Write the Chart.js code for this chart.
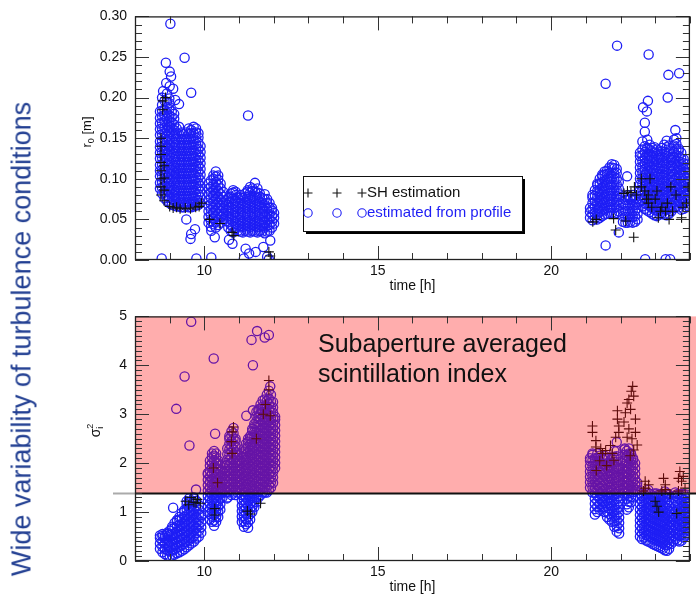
<!DOCTYPE html>
<html>
<head>
<meta charset="utf-8">
<title>turbulence conditions</title>
<script src="https://cdn.jsdelivr.net/npm/chart.js@4.4.1/dist/chart.umd.min.js"></script>
<style>
  html, body { margin: 0; padding: 0; background: #fff; }
  #wrap { position: relative; width: 696px; height: 598px; overflow: hidden; font-family: "Liberation Sans", Arial, sans-serif; }
  #topChart { position: absolute; left: 0; top: 0; }
  #bottomChart { position: absolute; left: 0; top: 300px; }
  #sideTitle { position: absolute; left: 22px; top: 339px; transform: translate(-50%, -50%) rotate(-90deg);
               white-space: nowrap; font-size: 27px; color: #223f92; }
  #note { position: absolute; left: 318px; top: 328px; font-size: 25px; line-height: 30px; color: #111; white-space: nowrap; }
</style>
</head>
<body>
<div id="wrap">
  <canvas id="topChart" width="696" height="300"></canvas>
  <canvas id="bottomChart" width="696" height="298"></canvas>
  <div id="sideTitle">Wide variability of turbulence conditions</div>
  <div id="note">Subaperture averaged<br>scintillation index</div>
</div>
<script>
// axis ranges and tick labels
const timeRange = [8, 24];
const timeTicks = [10, 15, 20];
const r0Ticks = [0, 0.05, 0.10, 0.15, 0.20, 0.25, 0.30];
const sigmaTicks = [0, 1, 2, 3, 4, 5];
const sigmaBand = [1.38, 5]; // shaded region of the scintillation panel

// readings, one entry per time column: [time, value, value, ...]
// r0 estimated from profile (circles)
const r0Profile = [
  [8.72, 0.088,0.095,0.103,0.110,0.117,0.125,0.132,0.139,0.146,0.154,0.161,0.168,0.175,0.183],
  [8.78, 0.082,0.089,0.096,0.104,0.111,0.118,0.126,0.133,0.140,0.147,0.155,0.162,0.169,0.177,0.184,0.191,0.200],
  [8.85, 0.076,0.083,0.091,0.098,0.105,0.112,0.120,0.127,0.134,0.141,0.149,0.156,0.163,0.171,0.178,0.185,0.196],
  [8.92, 0.073,0.079,0.086,0.094,0.101,0.108,0.116,0.123,0.130,0.137,0.145,0.152,0.159,0.166,0.174,0.181,0.188,0.195,0.205],
  [8.99, 0.070,0.077,0.084,0.091,0.099,0.106,0.113,0.120,0.128,0.135,0.142,0.149,0.157,0.164,0.171,0.178,0.186,0.193,0.199],
  [9.06, 0.068,0.075,0.082,0.089,0.097,0.104,0.111,0.118,0.126,0.133,0.140,0.147,0.155,0.162,0.169,0.176,0.183],
  [9.13, 0.067,0.073,0.080,0.087,0.095,0.102,0.109,0.116,0.124,0.131,0.138,0.145,0.153,0.160,0.167,0.174,0.180],
  [9.20, 0.066,0.072,0.079,0.086,0.093,0.100,0.107,0.114,0.121,0.128,0.135,0.142,0.149,0.156,0.162],
  [9.27, 0.066,0.071,0.078,0.085,0.092,0.099,0.106,0.113,0.120,0.127,0.134,0.141,0.148,0.155,0.164],
  [9.34, 0.065,0.072,0.079,0.086,0.093,0.100,0.107,0.114,0.121,0.128,0.135,0.142,0.149,0.157],
  [9.41, 0.065,0.071,0.078,0.085,0.092,0.099,0.106,0.113,0.120,0.127,0.134,0.141,0.148,0.155],
  [9.48, 0.066,0.072,0.079,0.086,0.093,0.100,0.107,0.114,0.121,0.128,0.135,0.142,0.149,0.157],
  [9.55, 0.065,0.071,0.078,0.085,0.092,0.099,0.106,0.113,0.120,0.127,0.134,0.141,0.148,0.155,0.162],
  [9.62, 0.065,0.072,0.079,0.086,0.093,0.100,0.107,0.114,0.121,0.128,0.135,0.142,0.149,0.156,0.160],
  [9.69, 0.066,0.072,0.079,0.086,0.093,0.100,0.107,0.114,0.121,0.128,0.135,0.142,0.149,0.156,0.164],
  [9.76, 0.067,0.073,0.080,0.087,0.094,0.101,0.108,0.115,0.122,0.129,0.136,0.143,0.150,0.157,0.162],
  [9.83, 0.068,0.074,0.081,0.088,0.095,0.102,0.109,0.116,0.123,0.130,0.137,0.144,0.151,0.156],
  [9.89, 0.070,0.077,0.084,0.091,0.098,0.105,0.112,0.119,0.126,0.133,0.140],
  [9.02,0.291],[8.89,0.243],[9.00,0.232],[9.04,0.226],[8.90,0.218],[9.00,0.214],[8.81,0.208],
  [9.10,0.211],[9.27,0.192],[9.43,0.249],[9.62,0.206],[9.16,0.197],[9.48,0.050],[9.73,0.038],
  [9.62,0.032],[9.60,0.026],[8.77,0.002],[9.77,0.002],
  [10.12, 0.046,0.053,0.060,0.067,0.074,0.081,0.088,0.094],
  [10.19, 0.041,0.048,0.055,0.062,0.069,0.076,0.083,0.090,0.098],
  [10.26, 0.044,0.051,0.058,0.065,0.072,0.079,0.086,0.093,0.100,0.104],
  [10.33, 0.040,0.047,0.054,0.061,0.068,0.075,0.082,0.089,0.096,0.103,0.109],
  [10.40, 0.043,0.050,0.057,0.064,0.071,0.078,0.085,0.092,0.099,0.104],
  [10.47, 0.046,0.053,0.060,0.067,0.074,0.081,0.088,0.094],
  [10.54, 0.050,0.057,0.064,0.071,0.078,0.084],
  [10.30,0.028],[10.20,0.036],[10.20,0.003],
  [10.62, 0.048,0.055,0.062,0.069,0.074],
  [10.69, 0.040,0.047,0.054,0.061,0.068,0.076],
  [10.76, 0.036,0.043,0.050,0.057,0.064,0.071,0.078,0.082],
  [10.83, 0.034,0.041,0.048,0.055,0.062,0.069,0.076,0.083,0.086],
  [10.90, 0.038,0.045,0.052,0.059,0.066,0.073,0.080,0.084],
  [10.97, 0.036,0.043,0.050,0.057,0.064,0.071,0.077],
  [11.04, 0.035,0.042,0.049,0.056,0.063,0.070,0.077,0.080],
  [11.11, 0.034,0.041,0.048,0.055,0.062,0.069,0.076],
  [11.18, 0.036,0.043,0.050,0.057,0.064,0.071,0.078,0.082],
  [11.25, 0.035,0.042,0.049,0.056,0.063,0.070,0.077,0.084,0.086],
  [11.32, 0.034,0.041,0.048,0.055,0.062,0.069,0.076,0.083,0.090],
  [11.39, 0.036,0.043,0.050,0.057,0.064,0.071,0.078,0.085,0.088],
  [11.46, 0.035,0.042,0.049,0.056,0.063,0.070,0.077,0.084,0.095],
  [11.53, 0.034,0.041,0.048,0.055,0.062,0.069,0.076,0.083,0.088],
  [11.60, 0.036,0.043,0.050,0.057,0.064,0.071,0.078,0.082],
  [11.67, 0.035,0.042,0.049,0.056,0.063,0.070,0.076],
  [11.74, 0.033,0.040,0.047,0.054,0.061,0.068,0.075,0.081],
  [11.81, 0.035,0.042,0.049,0.056,0.063,0.070,0.075],
  [11.88, 0.036,0.043,0.050,0.057,0.064,0.070],
  [11.95, 0.040,0.047,0.054,0.061,0.064],
  [12.01, 0.045,0.052,0.058],
  [11.26,0.178],[10.81,0.020],[10.71,0.025],[11.19,0.014],[11.29,0.008],[11.14,0.002],
  [11.48,0.010],[11.81,0.004],[11.70,0.016],[11.90,0.024],[11.86,0.001],
  [21.12, 0.052,0.059,0.064],
  [21.19, 0.049,0.056,0.063,0.070,0.077,0.080],
  [21.26, 0.051,0.058,0.065,0.072,0.079,0.086],
  [21.33, 0.050,0.057,0.064,0.071,0.078,0.085,0.092,0.094],
  [21.40, 0.052,0.059,0.066,0.073,0.080,0.087,0.094,0.100],
  [21.47, 0.054,0.061,0.068,0.075,0.082,0.089,0.096,0.103,0.105],
  [21.54, 0.056,0.063,0.070,0.077,0.084,0.091,0.098,0.105,0.109],
  [21.61, 0.057,0.064,0.071,0.078,0.085,0.092,0.099,0.106,0.110],
  [21.68, 0.058,0.065,0.072,0.079,0.086,0.093,0.100,0.107,0.114],
  [21.75, 0.058,0.065,0.072,0.079,0.086,0.093,0.100,0.107,0.114,0.118],
  [21.82, 0.057,0.064,0.071,0.078,0.085,0.092,0.099,0.106,0.113,0.117],
  [21.89, 0.058,0.065,0.072,0.079,0.086,0.093,0.100,0.107,0.112],
  [21.95, 0.060,0.067,0.074,0.081,0.088,0.096],
  [21.57,0.217],[21.90,0.264],[21.95,0.034],[21.57,0.018],[22.19,0.103],
  [22.07, 0.047,0.054,0.061,0.069],
  [22.14, 0.046,0.053,0.060,0.067,0.074,0.078],
  [22.21, 0.046,0.053,0.060,0.067,0.074,0.080],
  [22.28, 0.047,0.054,0.061,0.068,0.075,0.078],
  [22.35, 0.046,0.053,0.060,0.067,0.074,0.080],
  [22.42, 0.047,0.054,0.061,0.068,0.076],
  [22.49, 0.050,0.057,0.064,0.071],
  [22.56, 0.072,0.079,0.086,0.093,0.100,0.107,0.114,0.121,0.128,0.132],
  [22.63, 0.066,0.073,0.080,0.087,0.094,0.101,0.108,0.115,0.122,0.129,0.136,0.146],
  [22.70, 0.063,0.070,0.077,0.084,0.091,0.098,0.105,0.112,0.119,0.126,0.133,0.140,0.158],
  [22.77, 0.061,0.068,0.075,0.082,0.089,0.096,0.103,0.110,0.117,0.124,0.131,0.138,0.148],
  [22.84, 0.059,0.066,0.073,0.080,0.087,0.094,0.101,0.108,0.115,0.122,0.129,0.136,0.142],
  [22.91, 0.057,0.064,0.071,0.078,0.085,0.092,0.099,0.106,0.113,0.120,0.127,0.134,0.138],
  [22.98, 0.055,0.062,0.069,0.076,0.083,0.090,0.097,0.104,0.111,0.118,0.125,0.132,0.139],
  [23.05, 0.054,0.061,0.068,0.075,0.082,0.089,0.096,0.103,0.110,0.117,0.124,0.131,0.136],
  [23.12, 0.056,0.063,0.070,0.077,0.084,0.091,0.098,0.105,0.112,0.119,0.126,0.130],
  [23.19, 0.057,0.064,0.071,0.078,0.085,0.092,0.099,0.106,0.113,0.120,0.127,0.134,0.138],
  [23.26, 0.056,0.063,0.070,0.077,0.084,0.091,0.098,0.105,0.112,0.119,0.126,0.133,0.142],
  [23.33, 0.055,0.062,0.069,0.076,0.083,0.090,0.097,0.104,0.111,0.118,0.125,0.132,0.139,0.147],
  [23.40, 0.057,0.064,0.071,0.078,0.085,0.092,0.099,0.106,0.113,0.120,0.127,0.134,0.141],
  [23.47, 0.060,0.067,0.074,0.081,0.088,0.095,0.102,0.109,0.116,0.123,0.126],
  [23.54, 0.064,0.071,0.078,0.085,0.092,0.099,0.106,0.113,0.120,0.127,0.134,0.141,0.148],
  [23.61, 0.066,0.073,0.080,0.087,0.094,0.101,0.108,0.115,0.122,0.129,0.136,0.143,0.150],
  [23.68, 0.065,0.072,0.079,0.086,0.093,0.100,0.107,0.114,0.121,0.128,0.135,0.137],
  [23.75, 0.062,0.069,0.076,0.083,0.090,0.097,0.104,0.111,0.118,0.125,0.132],
  [23.82, 0.063,0.070,0.077,0.084,0.091,0.098,0.105,0.112,0.119,0.124],
  [23.89, 0.065,0.072,0.079,0.086,0.093,0.100,0.107,0.114,0.118],
  [23.95, 0.066,0.073,0.080,0.087,0.094,0.101,0.108,0.112],
  [22.81,0.253],[23.38,0.228],[23.69,0.230],[23.36,0.200],[22.79,0.196],[22.65,0.188],
  [22.76,0.183],[22.70,0.169],[22.71,0.001],[23.30,0.001],[23.43,0.001],[23.58,0.160]
];

// r0 from SH estimation (crosses)
const r0Sh = [
  [8.75, 0.080,0.090,0.100,0.110,0.120,0.130,0.140,0.150],
  [8.80, 0.185,0.196], [8.84, 0.073,0.086,0.101,0.116], [8.88, 0.200],
  [9.00,0.066],[9.10,0.064],[9.20,0.065],[9.30,0.063],[9.45,0.064],[9.60,0.063],[9.75,0.065],
  [9.85,0.066],[9.92,0.070],
  [10.15,0.050],[10.45,0.045],[10.80,0.034],[10.85,0.030],[11.86,0.010],[11.90,0.005],
  [21.20,0.047],[21.30,0.050],[21.80,0.051],[21.86,0.037],[22.38,0.028],
  [22.10,0.082],[22.20,0.085],[22.30,0.083],[22.40,0.090],[22.46,0.080],[22.15,0.048],
  [22.60,0.100,0.090],[22.70,0.085],[22.75,0.075],[22.80,0.070,0.080],[22.85,0.100],[22.90,0.065],
  [23.00,0.075],[23.05,0.085],[23.09,0.052],[23.15,0.060],[23.19,0.065],[23.30,0.060],[23.35,0.070],
  [23.40,0.050],[23.45,0.090],[23.50,0.060],[23.60,0.080],[23.76,0.052],[23.80,0.065],[23.90,0.070],
  [23.95,0.090]
];

// scintillation index estimated from profile (circles)
const sigmaProfile = [
  [8.72, 0.25,0.36,0.47,0.52],
  [8.79, 0.18,0.29,0.40,0.51,0.55],
  [8.86, 0.14,0.25,0.36,0.47,0.52],
  [8.93, 0.11,0.22,0.33,0.44,0.55,0.58],
  [9.00, 0.09,0.20,0.31,0.42,0.53,0.62],
  [9.07, 0.11,0.22,0.33,0.44,0.55,0.66,0.70],
  [9.14, 0.13,0.24,0.35,0.46,0.57,0.68,0.78],
  [9.21, 0.16,0.27,0.38,0.49,0.60,0.71,0.82,0.84],
  [9.28, 0.18,0.29,0.40,0.51,0.62,0.73,0.84,0.90],
  [9.35, 0.21,0.32,0.43,0.54,0.65,0.76,0.87,0.98],
  [9.42, 0.24,0.35,0.46,0.57,0.68,0.79,0.90,1.01,1.04],
  [9.49, 0.28,0.39,0.50,0.61,0.72,0.83,0.94,1.05,1.16,1.22],
  [9.56, 0.32,0.43,0.54,0.65,0.76,0.87,0.98,1.09,1.20,1.28],
  [9.63, 0.36,0.47,0.58,0.69,0.80,0.91,1.02,1.13,1.22],
  [9.70, 0.40,0.51,0.62,0.73,0.84,0.95,1.06,1.17,1.28,1.30],
  [9.77, 0.46,0.57,0.68,0.79,0.90,1.01,1.12,1.23],
  [9.84, 0.50,0.61,0.72,0.83,0.94,1.05,1.14],
  [9.91, 0.58,0.69,0.80,0.91,0.94],
  [9.10,1.09],[9.76,1.46],
  [10.10, 1.00,1.11,1.22,1.33,1.44,1.55,1.66,1.77,1.80],
  [10.16, 0.85,0.96,1.07,1.18,1.29,1.40,1.51,1.62,1.73,1.84,1.95,2.05],
  [10.22, 0.80,0.91,1.02,1.13,1.24,1.35,1.46,1.57,1.68,1.79,1.90,2.01,2.12,2.20],
  [10.28, 0.72,0.83,0.94,1.05,1.16,1.27,1.38,1.49,1.60,1.71,1.82,1.93,2.04,2.15,2.25],
  [10.34, 0.80,0.91,1.02,1.13,1.24,1.35,1.46,1.57,1.68,1.79,1.90,2.01,2.12,2.20],
  [10.40, 0.90,1.01,1.12,1.23,1.34,1.45,1.56,1.67,1.78,1.89,2.00,2.05],
  [10.46, 1.05,1.16,1.27,1.38,1.49,1.60,1.71,1.82,1.95],
  [10.52, 1.30,1.41,1.52,1.63,1.74,1.85],
  [10.60, 1.40,1.51,1.62,1.73,1.84,1.95,2.00],
  [10.66, 1.30,1.41,1.52,1.63,1.74,1.85,1.96,2.07,2.18,2.30],
  [10.72, 1.40,1.51,1.62,1.73,1.84,1.95,2.06,2.17,2.28,2.39,2.50,2.55],
  [10.78, 1.35,1.46,1.57,1.68,1.79,1.90,2.01,2.12,2.23,2.34,2.45,2.56,2.65],
  [10.84, 1.40,1.51,1.62,1.73,1.84,1.95,2.06,2.17,2.28,2.39,2.50,2.61,2.72],
  [10.90, 1.35,1.46,1.57,1.68,1.79,1.90,2.01,2.12,2.23,2.34,2.45,2.50],
  [10.96, 1.40,1.51,1.62,1.73,1.84,1.95,2.06,2.17,2.20],
  [11.02, 1.45,1.56,1.67,1.78,1.89,2.00,2.05],
  [10.65,1.28],
  [11.08, 0.80,0.91,1.02,1.13,1.24,1.35,1.46,1.57,1.68,1.79,1.90,2.01,2.12,2.20],
  [11.14, 0.70,0.81,0.92,1.03,1.14,1.25,1.36,1.47,1.58,1.69,1.80,1.91,2.02,2.13,2.24,2.30],
  [11.20, 0.75,0.86,0.97,1.08,1.19,1.30,1.41,1.52,1.63,1.74,1.85,1.96,2.07,2.18,2.29,2.40],
  [11.26, 0.68,0.79,0.90,1.01,1.12,1.23,1.34,1.45,1.56,1.67,1.78,1.89,2.00,2.11,2.22,2.33,2.44,2.50],
  [11.32, 0.85,0.96,1.07,1.18,1.29,1.40,1.51,1.62,1.73,1.84,1.95,2.06,2.17,2.28,2.39,2.50,2.55],
  [11.38, 1.00,1.11,1.22,1.33,1.44,1.55,1.66,1.77,1.88,1.99,2.10,2.21,2.32,2.43,2.54,2.65,2.70],
  [11.44, 1.10,1.21,1.32,1.43,1.54,1.65,1.76,1.87,1.98,2.09,2.20,2.31,2.42,2.53,2.64,2.75,2.80],
  [11.50, 1.20,1.31,1.42,1.53,1.64,1.75,1.86,1.97,2.08,2.19,2.30,2.41,2.52,2.63,2.74,2.85,2.96,3.05],
  [11.56, 1.30,1.41,1.52,1.63,1.74,1.85,1.96,2.07,2.18,2.29,2.40,2.51,2.62,2.73,2.84,2.95,3.06,3.10],
  [11.62, 1.35,1.46,1.57,1.68,1.79,1.90,2.01,2.12,2.23,2.34,2.45,2.56,2.67,2.78,2.89,3.00,3.11,3.20],
  [11.68, 1.40,1.51,1.62,1.73,1.84,1.95,2.06,2.17,2.28,2.39,2.50,2.61,2.72,2.83,2.94,3.05,3.16,3.28],
  [11.74, 1.40,1.51,1.62,1.73,1.84,1.95,2.06,2.17,2.28,2.39,2.50,2.61,2.72,2.83,2.94,3.05,3.16,3.30],
  [11.80, 1.40,1.51,1.62,1.73,1.84,1.95,2.06,2.17,2.28,2.39,2.50,2.61,2.72,2.83,2.94,3.05,3.16,3.27,3.40],
  [11.86, 1.45,1.56,1.67,1.78,1.89,2.00,2.11,2.22,2.33,2.44,2.55,2.66,2.77,2.88,2.99,3.10,3.21,3.32,3.48],
  [11.92, 1.50,1.61,1.72,1.83,1.94,2.05,2.16,2.27,2.38,2.49,2.60,2.71,2.82,2.93,3.04,3.15,3.26,3.40],
  [11.98, 1.60,1.71,1.82,1.93,2.04,2.15,2.26,2.37,2.48,2.59,2.70,2.81,2.92,3.03,3.14,3.25],
  [12.04, 1.90,2.01,2.12,2.23,2.34,2.45,2.56,2.67,2.78,2.89,2.95],
  [9.62,4.89],[10.27,4.14],[9.43,3.77],[9.19,3.11],[9.57,2.36],[10.31,2.60],[11.52,4.70],
  [11.36,4.52],[11.74,4.57],[11.86,4.62],[11.40,4.00],[11.21,2.97],[11.40,3.08],[11.90,3.57],
  [21.12, 1.50,1.61,1.72,1.83,1.94,2.05,2.10],
  [21.19, 1.40,1.51,1.62,1.73,1.84,1.95,2.06,2.17,2.20],
  [21.26, 0.95,1.06,1.17,1.28,1.39,1.50,1.61,1.72,1.83,1.94,2.05,2.10],
  [21.33, 1.00,1.11,1.22,1.33,1.44,1.55,1.66,1.77,1.88,1.99,2.10,2.20],
  [21.40, 1.05,1.16,1.27,1.38,1.49,1.60,1.71,1.82,1.93,2.04,2.15],
  [21.47, 1.10,1.21,1.32,1.43,1.54,1.65,1.76,1.87,1.98,2.09,2.10],
  [21.54, 1.00,1.11,1.22,1.33,1.44,1.55,1.66,1.77,1.88,1.99,2.10,2.15],
  [21.61, 0.90,1.01,1.12,1.23,1.34,1.45,1.56,1.67,1.78,1.89,2.00,2.10],
  [21.68, 0.85,0.96,1.07,1.18,1.29,1.40,1.51,1.62,1.73,1.84,1.95,2.00],
  [21.75, 0.80,0.91,1.02,1.13,1.24,1.35,1.46,1.57,1.68,1.79,1.90,2.01,2.10],
  [21.82, 0.70,0.81,0.92,1.03,1.14,1.25,1.36,1.47,1.58,1.69,1.80,1.91,2.02,2.13,2.25],
  [21.89, 0.60,0.71,0.82,0.93,1.04,1.15,1.26,1.37,1.48,1.59,1.70,1.81,1.92,2.03,2.14,2.25,2.43],
  [21.96, 0.56,0.67,0.78,0.89,1.00,1.11,1.22,1.33,1.44,1.55,1.66,1.77,1.88,1.90],
  [22.06, 1.45,1.56,1.67,1.78,1.89,2.00,2.05],
  [22.12, 1.40,1.51,1.62,1.73,1.84,1.95,2.06,2.17,2.28,2.30],
  [22.18, 1.05,1.16,1.27,1.38,1.49,1.60,1.71,1.82,1.93,2.04,2.15,2.25],
  [22.24, 1.10,1.21,1.32,1.43,1.54,1.65,1.76,1.87,1.98,2.09,2.20,2.30],
  [22.30, 1.20,1.31,1.42,1.53,1.64,1.75,1.86,1.97,2.08,2.19,2.20],
  [22.36, 1.30,1.41,1.52,1.63,1.74,1.85,1.96,2.07,2.10],
  [22.42, 1.45,1.56,1.67,1.78,1.89,2.00],
  [22.48, 1.45,1.53,1.60],
  [22.56, 0.50,0.61,0.72,0.83,0.94,1.05,1.16,1.27,1.38],
  [22.62, 0.45,0.56,0.67,0.78,0.89,1.00,1.11,1.22,1.33],
  [22.68, 0.48,0.59,0.70,0.81,0.92,1.03,1.14,1.25,1.36],
  [22.74, 0.42,0.53,0.64,0.75,0.86,0.97,1.08,1.19,1.30,1.38],
  [22.80, 0.40,0.51,0.62,0.73,0.84,0.95,1.06,1.17,1.28,1.39,1.45],
  [22.86, 0.38,0.49,0.60,0.71,0.82,0.93,1.04,1.15,1.26,1.37],
  [22.92, 0.35,0.46,0.57,0.68,0.79,0.90,1.01,1.12,1.23,1.34],
  [22.98, 0.33,0.44,0.55,0.66,0.77,0.88,0.99,1.10,1.21,1.32,1.38],
  [23.04, 0.31,0.42,0.53,0.64,0.75,0.86,0.97,1.08,1.19,1.30,1.38],
  [23.10, 0.29,0.40,0.51,0.62,0.73,0.84,0.95,1.06,1.17,1.28,1.36],
  [23.16, 0.27,0.38,0.49,0.60,0.71,0.82,0.93,1.04,1.15,1.26,1.37],
  [23.22, 0.25,0.36,0.47,0.58,0.69,0.80,0.91,1.02,1.13,1.24,1.35],
  [23.28, 0.22,0.33,0.44,0.55,0.66,0.77,0.88,0.99,1.10,1.21,1.32,1.42],
  [23.34, 0.21,0.32,0.43,0.54,0.65,0.76,0.87,0.98,1.09,1.20,1.31,1.38],
  [23.40, 0.25,0.36,0.47,0.58,0.69,0.80,0.91,1.02,1.13,1.24,1.35],
  [23.46, 0.35,0.46,0.57,0.68,0.79,0.90,1.01],
  [23.52, 0.40,0.51,0.62,0.73,0.84,0.90],
  [23.58, 0.45,0.56,0.67,0.78,0.89,1.00,1.11,1.22,1.33,1.40],
  [23.64, 0.42,0.53,0.64,0.75,0.86,0.97,1.08,1.19,1.30,1.37],
  [23.70, 0.40,0.51,0.62,0.73,0.84,0.95,1.06,1.17,1.28,1.36],
  [23.76, 0.42,0.53,0.64,0.75,0.86,0.97,1.08,1.19,1.30,1.37],
  [23.82, 0.48,0.59,0.70,0.81,0.92,1.03,1.14,1.25,1.36],
  [23.88, 0.52,0.63,0.74,0.85,0.96,1.07,1.18,1.29,1.36],
  [23.94, 0.56,0.67,0.78,0.89,1.00,1.11,1.22,1.30],
  [23.99, 0.62,0.73,0.84,0.95,1.06,1.17,1.20]
];

// scintillation index from SH estimation (crosses)
const sigmaSh = [
  [9.46,1.22],[9.55,1.15],[9.62,1.30],[9.70,1.20],[9.76,1.19],[9.80,1.26],[9.88,1.18],
  [10.30,1.07,0.94],[10.26,1.90],[10.38,1.60],
  [10.80,2.64,2.20],[10.84,2.74],[10.78,2.44],
  [11.24,1.02],[11.33,0.96],[11.62,1.18],[11.50,2.50],[11.70,3.00],[11.76,3.20],[11.86,3.69,3.50],[11.90,2.97],
  [21.19,2.76,2.63],[21.29,2.46,2.33],[21.43,2.30],[21.48,2.20],[21.57,2.26],[21.71,2.36],[21.76,2.20],
  [21.81,2.06],[21.91,3.07,2.90],[21.95,2.76,2.63],[21.86,2.53],[21.40,2.05],[21.60,1.95],[21.30,1.85],
  [22.35,3.57],[22.31,3.47],[22.38,3.37],[22.24,3.30],[22.19,3.23],[22.29,3.10],[22.14,3.03],
  [22.43,2.90,2.63],[22.10,2.84],[22.24,2.70],[22.19,2.53],[22.33,2.50],[22.48,2.37],[22.38,2.27],[22.28,2.15],
  [22.71,1.63,1.49],[22.81,1.56],[22.66,1.43],[23.24,1.69],[23.29,1.56,1.46],[23.19,1.43],[23.67,1.69],
  [23.71,1.83],[23.76,1.63],[23.86,1.49],[23.67,1.43],[23.81,1.73],[23.00,1.22],[23.10,1.00],
  [23.43,1.37],[23.62,0.97],[23.05,1.12]
];

const FONT = "'Liberation Sans', Arial, Helvetica, sans-serif";
const BLUE = 'rgb(30,30,245)';

function toPoints(cols) {
  const pts = [];
  cols.forEach(c => {
    for (let i = 1; i < c.length; i++) pts.push({ x: c[0], y: c[i] });
  });
  return pts;
}

// frame, inward ticks, titles, legend, shaded band
const decor = {
  id: 'decor',
  afterDatasetsDraw(chart, args, o) {
    if (!o.band) return;
    const { ctx, chartArea: a, scales: { y } } = chart;
    const yTop = y.getPixelForValue(o.band[1]);
    const yBot = y.getPixelForValue(o.band[0]);
    ctx.save();
    ctx.fillStyle = 'rgba(255,0,0,0.32)';
    ctx.fillRect(a.left, yTop, chart.width - a.left, yBot - yTop);
    ctx.strokeStyle = '#aaa';
    ctx.lineWidth = 2;
    ctx.beginPath();
    ctx.moveTo(113, yBot); ctx.lineTo(a.left, yBot);
    ctx.stroke();
    ctx.strokeStyle = '#111';
    ctx.beginPath();
    ctx.moveTo(a.left, yBot); ctx.lineTo(chart.width, yBot);
    ctx.stroke();
    ctx.restore();
  },
  afterDraw(chart, args, o) {
    const { ctx, chartArea: a, scales: { x, y } } = chart;
    ctx.save();
    ctx.strokeStyle = '#333';
    ctx.lineWidth = 1;
    ctx.beginPath();
    for (let h = timeRange[0]; h <= timeRange[1]; h++) {
      const px = Math.round(x.getPixelForValue(h)) + 0.5;
      const len = timeTicks.includes(h) ? 14 : 7;
      ctx.moveTo(px, a.bottom); ctx.lineTo(px, a.bottom - len);
      ctx.moveTo(px, a.top); ctx.lineTo(px, a.top + len);
    }
    for (let i = 0; i <= o.minorCount; i++) {
      const py = Math.round(y.getPixelForValue(i * o.minorStep)) + 0.5;
      const len = i % o.perMajor === 0 ? 14 : 7;
      ctx.moveTo(a.left, py); ctx.lineTo(a.left + len, py);
      ctx.moveTo(a.right, py); ctx.lineTo(a.right - len, py);
    }
    ctx.stroke();
    ctx.strokeStyle = '#222';
    ctx.lineWidth = 1.3;
    ctx.strokeRect(a.left + 0.5, a.top + 0.5, a.right - a.left - 1, a.bottom - a.top - 1);

    // x title
    ctx.fillStyle = '#111';
    ctx.font = '14px ' + FONT;
    ctx.textAlign = 'center';
    ctx.textBaseline = 'middle';
    ctx.fillText('time [h]', (a.left + a.right) / 2, a.bottom + 26);

    // y title, rotated, with sub/superscripts
    ctx.save();
    ctx.translate(o.yTitle.x, o.yTitle.y);
    ctx.rotate(-Math.PI / 2);
    ctx.textAlign = 'left';
    ctx.textBaseline = 'alphabetic';
    const parts = o.yTitle.parts;
    let total = 0;
    parts.forEach(p => {
      ctx.font = p.size + 'px ' + FONT;
      p.w = ctx.measureText(p.text).width;
      if (!p.stack) total += p.w;
    });
    let cx = -total / 2;
    parts.forEach(p => {
      ctx.font = p.size + 'px ' + FONT;
      ctx.fillText(p.text, cx, 4.5 + (p.dy || 0));
      if (!p.stack) cx += p.w;
    });
    ctx.restore();

    if (o.legend) {
      const L = o.legend;
      ctx.fillStyle = '#000';
      ctx.fillRect(L.x + 3, L.y + 3, L.w, L.h);
      ctx.fillStyle = '#fff';
      ctx.fillRect(L.x, L.y, L.w, L.h);
      ctx.strokeStyle = '#111';
      ctx.lineWidth = 1;
      ctx.strokeRect(L.x + 0.5, L.y + 0.5, L.w, L.h);
      ctx.lineWidth = 1.1;
      [308, 337, 362].forEach(mx => {
        ctx.strokeStyle = '#111';
        ctx.beginPath();
        ctx.moveTo(mx - 4.5, L.y + 17); ctx.lineTo(mx + 4.5, L.y + 17);
        ctx.moveTo(mx, L.y + 12.5); ctx.lineTo(mx, L.y + 21.5);
        ctx.stroke();
        ctx.strokeStyle = BLUE;
        ctx.beginPath();
        ctx.arc(mx, L.y + 37, 4.2, 0, Math.PI * 2);
        ctx.stroke();
      });
      ctx.font = '15px ' + FONT;
      ctx.textAlign = 'left';
      ctx.textBaseline = 'middle';
      ctx.fillStyle = '#111';
      ctx.fillText('SH estimation', 367, L.y + 17);
      ctx.fillStyle = BLUE;
      ctx.fillText('estimated from profile', 367, L.y + 37);
    }
    ctx.restore();
  }
};

Chart.defaults.font.family = FONT;
Chart.defaults.font.size = 14;
Chart.defaults.color = '#111';

function makePanel(canvasId, cfg) {
  return new Chart(document.getElementById(canvasId), {
    type: 'scatter',
    data: {
      datasets: [
        {
          label: 'SH estimation',
          data: toPoints(cfg.sh),
          pointStyle: 'cross',
          pointRadius: 5,
          borderColor: '#111',
          borderWidth: 1.1
        },
        {
          label: 'estimated from profile',
          data: toPoints(cfg.profile),
          pointStyle: 'circle',
          pointRadius: 4.6,
          borderColor: BLUE,
          backgroundColor: 'rgba(0,0,0,0)',
          borderWidth: 1.3
        }
      ]
    },
    options: {
      responsive: false,
      animation: false,
      events: [],
      layout: { padding: { left: 0, right: 1, top: 12, bottom: 0 } },
      scales: {
        x: {
          type: 'linear',
          min: timeRange[0],
          max: timeRange[1],
          grid: { display: false, drawTicks: false },
          border: { display: false },
          afterBuildTicks: s => { s.ticks = timeTicks.map(v => ({ value: v })); },
          afterFit: s => { s.height = cfg.xHeight; },
          ticks: { padding: 3, autoSkip: false, maxRotation: 0 }
        },
        y: {
          type: 'linear',
          min: cfg.yTicks[0],
          max: cfg.yTicks[cfg.yTicks.length - 1],
          grid: { display: false, drawTicks: false },
          border: { display: false },
          afterBuildTicks: s => { s.ticks = cfg.yTicks.map(v => ({ value: v })); },
          afterFit: s => { s.width = 135; },
          ticks: { padding: 8, autoSkip: false, callback: cfg.fmt }
        }
      },
      plugins: {
        legend: { display: false },
        tooltip: { enabled: false },
        decor: cfg.decor
      }
    },
    plugins: [decor]
  });
}

makePanel('topChart', {
  sh: r0Sh,
  profile: r0Profile,
  yTicks: r0Ticks,
  xHeight: 40,
  fmt: v => v.toFixed(2),
  decor: {
    minorCount: 30, minorStep: 0.01, perMajor: 5,
    yTitle: { x: 86, y: 132, parts: [
      { text: 'r', size: 13 },
      { text: '0', size: 9, dy: 3 },
      { text: ' [m]', size: 13 }
    ] },
    legend: { x: 303, y: 176, w: 219, h: 55 }
  }
});

makePanel('bottomChart', {
  sh: sigmaSh,
  profile: sigmaProfile,
  yTicks: sigmaTicks,
  xHeight: 37,
  fmt: v => String(v),
  decor: {
    minorCount: 50, minorStep: 0.1, perMajor: 10,
    band: sigmaBand,
    yTitle: { x: 95, y: 132, parts: [
      { text: 'σ', size: 14 },
      { text: '2', size: 9, dy: -7, stack: true },
      { text: 'i', size: 9, dy: 3 }
    ] }
  }
});
</script>
</body>
</html>
